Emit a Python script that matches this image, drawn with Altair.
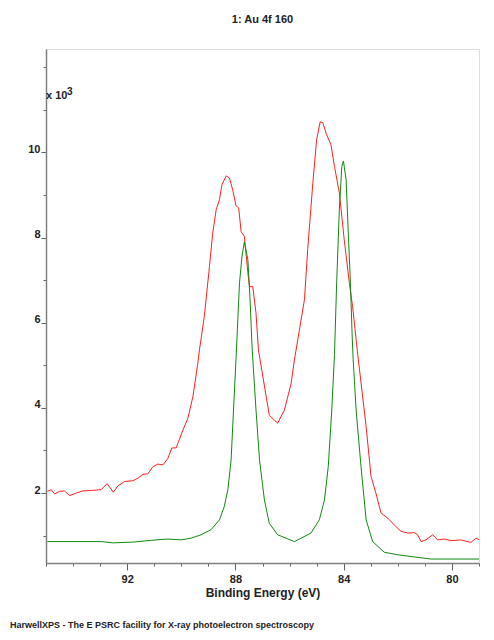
import altair as alt
import pandas as pd

# Red (measured) envelope: binding energy (eV) and counts (x 10^3)
red_be = [94.95, 94.81, 94.68, 94.50, 94.32, 94.13, 93.88, 93.64, 93.33, 92.96,
          92.74, 92.51, 92.34, 92.10, 91.79, 91.60, 91.42, 91.24, 91.05, 90.87,
          90.68, 90.50, 90.35, 90.19, 89.94, 89.76, 89.57, 89.39, 89.33, 89.15,
          88.96, 88.84, 88.71, 88.59, 88.50, 88.34, 88.22, 88.10, 87.98, 87.88,
          87.79, 87.67, 87.54, 87.48, 87.36, 87.24, 87.15, 87.09, 86.75, 86.44,
          86.19, 85.94, 85.82, 85.76, 85.45, 85.33, 85.14, 85.00, 84.87, 84.77,
          84.65, 84.47, 84.34, 84.16, 83.98, 83.79, 83.67, 83.48, 83.17, 82.99,
          82.81, 82.62, 82.37, 82.13, 81.88, 81.63, 81.39, 81.27, 81.14, 80.96,
          80.71, 80.53, 80.28, 80.04, 79.67, 79.30, 79.11, 78.99]
red_cts = [2.04, 2.08, 1.98, 2.04, 2.05, 1.94, 2.00, 2.05, 2.06, 2.08,
           2.22, 2.02, 2.17, 2.27, 2.29, 2.35, 2.44, 2.45, 2.62, 2.68,
           2.66, 2.81, 3.06, 3.06, 3.48, 3.75, 4.27, 5.05, 5.36, 6.15,
           7.32, 8.11, 8.66, 8.89, 9.24, 9.45, 9.40, 9.12, 8.75, 8.70,
           8.14, 8.03, 7.17, 6.85, 6.85, 6.23, 5.36, 5.13, 3.83, 3.64,
           3.95, 4.58, 5.13, 5.36, 6.54, 7.72, 9.28, 10.30, 10.72, 10.70,
           10.45, 10.18, 9.67, 9.05, 7.95, 6.93, 6.38, 5.25, 3.56, 2.39,
           2.00, 1.53, 1.41, 1.25, 1.10, 1.06, 1.07, 1.02, 0.86, 0.90,
           1.02, 0.90, 0.92, 0.88, 0.90, 0.84, 0.94, 0.90]

# Green (component) curve
green_be = [94.95, 92.96, 92.53, 91.73, 91.11, 90.50, 90.01, 89.64, 89.27, 88.90,
            88.59, 88.41, 88.28, 88.16, 88.04, 87.98, 87.85, 87.76, 87.67, 87.54,
            87.46, 87.38, 87.24, 87.11, 86.93, 86.75, 86.44, 85.82, 85.21, 84.90,
            84.71, 84.57, 84.44, 84.34, 84.26, 84.16, 84.07, 84.01, 83.91, 83.83,
            83.75, 83.69, 83.65, 83.54, 83.36, 83.17, 82.93, 82.50, 82.00, 81.39,
            80.77, 78.99]
green_cts = [0.86, 0.86, 0.83, 0.85, 0.89, 0.92, 0.90, 0.94, 1.02, 1.14,
             1.37, 1.69, 2.08, 2.78, 4.35, 5.13, 6.93, 7.55, 7.90, 7.48,
             6.54, 5.36, 3.95, 2.78, 1.84, 1.29, 1.02, 0.86, 1.06, 1.37,
             1.84, 2.62, 3.95, 5.25, 6.93, 8.66, 9.67, 9.80, 9.36, 8.11,
             6.93, 5.75, 5.13, 3.95, 2.62, 1.37, 0.86, 0.61, 0.55, 0.50,
             0.45, 0.45]

x_ticks = list(range(79, 96))
x_labels = [80, 84, 88, 92]
y_ticks = list(range(1, 13))
y_labels = [2, 4, 6, 8, 10]

title_text = "1: Au 4f 160"
x_title = "Binding Energy (eV)"
footer_text = "HarwellXPS - The E PSRC facility for X-ray photoelectron spectroscopy"

df = pd.concat([
    pd.DataFrame({"be": red_be, "cts": red_cts, "series": "envelope", "ord": 0}),
    pd.DataFrame({"be": green_be, "cts": green_cts, "series": "component", "ord": 1}),
])

FONT = "Liberation Sans"

x_test = "indexof(" + str(x_labels) + ", datum.value) >= 0"
y_test = "indexof(" + str(y_labels) + ", datum.value) >= 0"

lines = alt.Chart(df).mark_line(strokeWidth=1, clip=True).encode(
    x=alt.X("be:Q",
            scale=alt.Scale(domain=[79, 95], reverse=True, nice=False, zero=False),
            axis=alt.Axis(values=x_ticks, labelExpr=x_test + " ? datum.label : ''",
                          title=x_title, grid=False,
                          tickSize={"condition": {"test": x_test, "value": 7}, "value": 3},
                          labelPadding=3, titlePadding=3,
                          labelFontSize=11, labelFontWeight="bold",
                          titleFontSize=12, titleFontWeight="bold",
                          labelFont=FONT, titleFont=FONT,
                          labelColor="#222222", titleColor="#222222",
                          domainColor="#808080", tickColor="#606060",
                          domainWidth=1.5, labelFlush=False)),
    y=alt.Y("cts:Q",
            scale=alt.Scale(domain=[0.357, 12.43], nice=False, zero=False),
            axis=alt.Axis(values=y_ticks, labelExpr=y_test + " ? datum.label : ''",
                          title=None, grid=False,
                          tickSize={"condition": {"test": y_test, "value": 5}, "value": 3},
                          labelPadding=1, labelBaseline="alphabetic",
                          labelFontSize=11, labelFontWeight="bold",
                          labelFont=FONT, labelColor="#222222",
                          domainColor="#808080", tickColor="#606060",
                          domainWidth=1.5, labelFlush=False)),
    color=alt.Color("series:N",
                    scale=alt.Scale(domain=["envelope", "component"],
                                    range=["#ff2020", "#108a10"]),
                    legend=None),
    detail="series:N",
    order=alt.Order("ord:Q"),
)

one = pd.DataFrame({"a": [0]})

mult = alt.Chart(one).mark_text(
    text="x 10", font=FONT, fontSize=11, fontWeight="bold", align="left",
    baseline="alphabetic", color="#222222"
).encode(x=alt.value(0), y=alt.value(50))

expo = alt.Chart(one).mark_text(
    text="3", font=FONT, fontSize=10, fontWeight="bold", align="left",
    baseline="alphabetic", color="#222222"
).encode(x=alt.value(21), y=alt.value(46))

footer = alt.Chart(one).mark_text(
    text=footer_text, font=FONT, fontSize=9, fontWeight="bold", align="left",
    baseline="middle", color="#222222"
).encode(x=alt.value(-36), y=alt.value(576))

chart = alt.layer(lines, mult, expo, footer).properties(
    width=433, height=514,
    title=alt.TitleParams(title_text, font=FONT, fontSize=11, fontWeight="bold",
                          anchor="middle", offset=24, color="#222222"),
    autosize=alt.AutoSizeParams(type="none"),
    padding={"left": 38, "top": 41, "right": 7, "bottom": 69},
).configure_view(stroke="#808080", strokeWidth=1.5).configure(background="white")

chart.save("out.html", embed_options={"renderer": "svg", "actions": False})
